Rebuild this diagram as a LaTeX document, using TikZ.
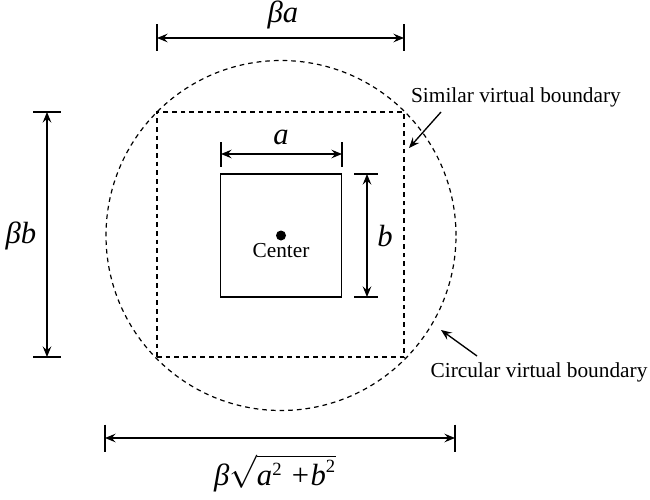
\documentclass[tikz,border=0pt]{standalone}
\usepackage{fontspec}
\setmainfont{Liberation Serif}
\usetikzlibrary{arrows.meta,positioning}
\tikzset{
  dimline/.style={line width=1.1pt,
    {Stealth[length=8pt,width=6.5pt,inset=3pt]}-{Stealth[length=8pt,width=6.5pt,inset=3pt]}},
  tickline/.style={line width=1.1pt},
  pointer/.style={line width=1pt,-{Stealth[length=8pt,width=6.5pt,inset=3pt]}},
  virtualline/.style={draw, line width=0.9pt, dash pattern=on 3.5pt off 3pt},
  plaintext/.style={font=\fontsize{16}{18}\selectfont, inner sep=1pt},
  dimlabel/.style={font=\fontsize{23}{25}\selectfont\itshape, inner sep=1pt},
}
\newcommand{\sqval}{\fontsize{14}{14}\selectfont\upshape 2}

\begin{document}
\begin{tikzpicture}[x=0.75pt,y=-0.75pt]
\useasboundingbox (0,0) rectangle (650,500);

% boundaries
\coordinate (center) at (281,235.5);
\node[virtualline, circle, minimum size=262.5pt, inner sep=0pt] (circbound) at (center) {};
\node[virtualline, minimum width=185.25pt, minimum height=183.75pt, inner sep=0pt] (simbound) at (280.5,234.5) {};
\node[draw, line width=1.1pt, minimum width=90.75pt, minimum height=92.25pt, inner sep=0pt] (box) at (center) {};
\fill (center) circle (5);
\node[plaintext] (centerlbl) at (281,251) {Center};

% width of similar boundary
\coordinate (ba1) at (157,38);
\coordinate (ba2) at (404,38);
\draw[dimline] (ba1) -- (ba2);
\draw[tickline] ([yshift=10.5pt]ba1) -- ([yshift=-10pt]ba1);
\draw[tickline] ([yshift=10.5pt]ba2) -- ([yshift=-10pt]ba2);
\node[dimlabel] (balbl) at (283,15) {βa};

% height of similar boundary
\coordinate (bb1) at (47,112);
\coordinate (bb2) at (47,357);
\draw[dimline] (bb1) -- (bb2);
\draw[tickline] ([xshift=-10.5pt]bb1) -- ([xshift=10.5pt]bb1);
\draw[tickline] ([xshift=-10.5pt]bb2) -- ([xshift=10.5pt]bb2);
\node[dimlabel] (bblbl) at (21,236) {βb};

% width of box
\coordinate (a1) at (221,154);
\coordinate (a2) at (342,154);
\draw[dimline] (a1) -- (a2);
\draw[tickline] ([yshift=9pt]a1) -- ([yshift=-9.5pt]a1);
\draw[tickline] ([yshift=9pt]a2) -- ([yshift=-9.5pt]a2);
\node[dimlabel] (albl) at (281,137) {a};

% height of box
\coordinate (b1) at (367,174);
\coordinate (b2) at (367,297);
\draw[dimline] (b1) -- (b2);
\draw[tickline] ([xshift=-9.5pt]b1) -- ([xshift=8.5pt]b1);
\draw[tickline] ([xshift=-9.5pt]b2) -- ([xshift=8.5pt]b2);
\node[dimlabel] (blbl) at (385,236) {b};

% diameter of circle
\coordinate (d1) at (105,438);
\coordinate (d2) at (455,438);
\draw[dimline] (d1) -- (d2);
\draw[tickline] ([yshift=10pt]d1) -- ([yshift=-10.5pt]d1);
\draw[tickline] ([yshift=10pt]d2) -- ([yshift=-10.5pt]d2);
\node[dimlabel] (dlbl) at (275,473) {β$\sqrt{\mbox{\itshape a}^{\mbox{\sqval}}\mbox{ +}\mbox{\itshape b}^{\mbox{\sqval}}}$};

% labels of boundaries
\node[plaintext] (simtext) at (516,97) {Similar virtual boundary};
\coordinate (simtip) at (409,148);
\draw[pointer] (441,112) -- (simtip);
\node[plaintext] (circtext) at (539,372) {Circular virtual boundary};
\coordinate (circtip) at (441,330);
\draw[pointer] (477,356) -- (circtip);
\end{tikzpicture}
\end{document}
